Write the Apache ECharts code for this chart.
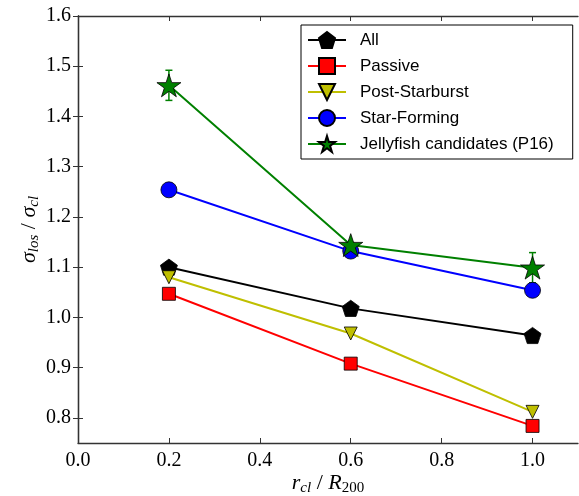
<!DOCTYPE html>
<html><head><meta charset="utf-8">
<script src="https://cdn.jsdelivr.net/npm/echarts@6/dist/echarts.min.js"></script>
<style>html,body{margin:0;padding:0;background:#fff}#c{width:579px;height:496px}</style>
</head><body><div id="c"></div>
<script>
const xValues = [0.2, 0.6, 1.0];
const allVals = [1.100, 1.018, 0.964];
const passiveVals = [1.047, 0.908, 0.784];
const psbVals = [1.080, 0.968, 0.812];
const sfVals = [1.254, 1.132, 1.054];
const jellyVals = [1.462, 1.144, 1.099];
const jellyErr = [0.030, 0.005, 0.030];
const xTicks = [0.0, 0.2, 0.4, 0.6, 0.8, 1.0];
const yTicks = [0.8, 0.9, 1.0, 1.1, 1.2, 1.3, 1.4, 1.5, 1.6];

const pentagon = 'path://M0,-100 L95.1,-30.9 L58.78,80.9 L-58.78,80.9 L-95.1,-30.9 Z';
const star = 'path://M0,-100 L22.45,-30.9 L95.1,-30.9 L36.33,11.8 L58.78,80.9 L0,38.2 L-58.78,80.9 L-36.33,11.8 L-95.1,-30.9 L-22.45,-30.9 Z';

const pairs = v => xValues.map((x, i) => [x, v[i]]);
const serif = 'Liberation Serif';
const axisCol = '#333';

function mkLine(name, vals, color, symbol, size, extra) {
  return Object.assign({
    name, type: 'line', data: pairs(vals), symbol, symbolSize: size,
    symbolKeepAspect: true,
    lineStyle: { color, width: 2 },
    itemStyle: { color, borderColor: '#000', borderWidth: 0.8 },
    showAllSymbol: true, animation: false
  }, extra || {});
}

const chart = echarts.init(document.getElementById('c'));
chart.setOption({
  animation: false,
  grid: { left: 78, right: 1, top: 16, bottom: 53, outerBoundsMode: 'none', containLabel: false },
  xAxis: [{
    type: 'value', min: 0, max: 1.1,
    axisLine: { show: true, lineStyle: { color: axisCol, width: 1.3 } },
    axisTick: { show: true, inside: true, length: 5, lineStyle: { color: axisCol }, customValues: xTicks },
    axisLabel: { customValues: xTicks, formatter: v => v.toFixed(1), fontFamily: serif, fontSize: 20, color: '#000', margin: 8 },
    splitLine: { show: false },
    name: '{i|r}{t|cl}{n| / }{i|R}{s|200}', nameLocation: 'middle', nameGap: 28, nameMoveOverlap: false,
    nameTextStyle: { rich: {
      i: { fontFamily: serif, fontStyle: 'italic', fontSize: 22, color: '#000', lineHeight: 24 },
      n: { fontFamily: serif, fontSize: 22, color: '#000', lineHeight: 24 },
      t: { fontFamily: serif, fontStyle: 'italic', fontSize: 15, color: '#000', lineHeight: 15, padding: [11, 0, 0, 0] },
      s: { fontFamily: serif, fontSize: 15, color: '#000', lineHeight: 15, padding: [11, 0, 0, 0] }
    } }
  }, {
    type: 'value', min: 0, max: 1.1, position: 'top',
    axisLine: { show: true, lineStyle: { color: axisCol, width: 1.3 } },
    axisTick: { show: true, inside: true, length: 5, lineStyle: { color: axisCol }, customValues: xTicks },
    axisLabel: { show: false }, splitLine: { show: false }
  }],
  yAxis: [{
    type: 'value', min: 0.75, max: 1.6,
    axisLine: { show: true, lineStyle: { color: axisCol, width: 1.3 } },
    axisTick: { show: true, inside: true, length: 5, lineStyle: { color: axisCol }, customValues: yTicks },
    axisLabel: { customValues: yTicks, formatter: v => v.toFixed(1), fontFamily: serif, fontSize: 20, color: '#000', margin: 7 },
    splitLine: { show: false },
    name: '{i|σ}{s|los}{n| / }{i|σ}{s|cl}', nameLocation: 'middle', nameGap: 37, nameRotate: 90, nameMoveOverlap: false,
    nameTextStyle: { rich: {
      i: { fontFamily: serif, fontStyle: 'italic', fontSize: 22, color: '#000', lineHeight: 24 },
      n: { fontFamily: serif, fontSize: 22, color: '#000', lineHeight: 24 },
      s: { fontFamily: serif, fontStyle: 'italic', fontSize: 15, color: '#000', lineHeight: 15, padding: [11, 0, 0, 0] }
    } }
  }, {
    type: 'value', min: 0.75, max: 1.6, position: 'right',
    axisLine: { show: true, lineStyle: { color: axisCol, width: 1.3 } },
    axisTick: { show: true, inside: true, length: 5, lineStyle: { color: axisCol }, customValues: yTicks },
    axisLabel: { show: false }, splitLine: { show: false }
  }],
  legend: {
    left: 301, top: 25, orient: 'vertical', selectedMode: false,
    backgroundColor: '#fff', borderColor: '#000', borderWidth: 1, borderRadius: 0,
    padding: [6, 19, 6, 6], itemWidth: 38, itemHeight: 20, itemGap: 8,
    textStyle: { fontFamily: 'Liberation Sans', fontSize: 17, color: '#000', padding: [0, 0, 0, 9] },
    data: ['All', 'Passive', 'Post-Starburst', 'Star-Forming', 'Jellyfish candidates (P16)']
  },
  series: [
    mkLine('All', allVals, '#000000', pentagon, 17),
    mkLine('Passive', passiveVals, '#ff0000', 'rect', 13),
    mkLine('Post-Starburst', psbVals, '#bfbf00', 'triangle', 13, { symbolRotate: 180 }),
    mkLine('Star-Forming', sfVals, '#0000ff', 'circle', 16),
    {
      type: 'custom', name: 'err', silent: true, z: 2,
      data: xValues.map((x, i) => [x, jellyVals[i] - jellyErr[i], jellyVals[i] + jellyErr[i]]),
      renderItem: (params, api) => {
        const lo = api.coord([api.value(0), api.value(1)]);
        const hi = api.coord([api.value(0), api.value(2)]);
        const style = { stroke: '#008000', lineWidth: 1.5 };
        return { type: 'group', children: [
          { type: 'line', shape: { x1: lo[0], y1: lo[1], x2: hi[0], y2: hi[1] }, style },
          { type: 'line', shape: { x1: lo[0] - 3.5, y1: lo[1], x2: lo[0] + 3.5, y2: lo[1] }, style },
          { type: 'line', shape: { x1: hi[0] - 3.5, y1: hi[1], x2: hi[0] + 3.5, y2: hi[1] }, style }
        ] };
      }
    },
    mkLine('Jellyfish candidates (P16)', jellyVals, '#008000', star, 24, { z: 3 })
  ]
});
</script></body></html>
